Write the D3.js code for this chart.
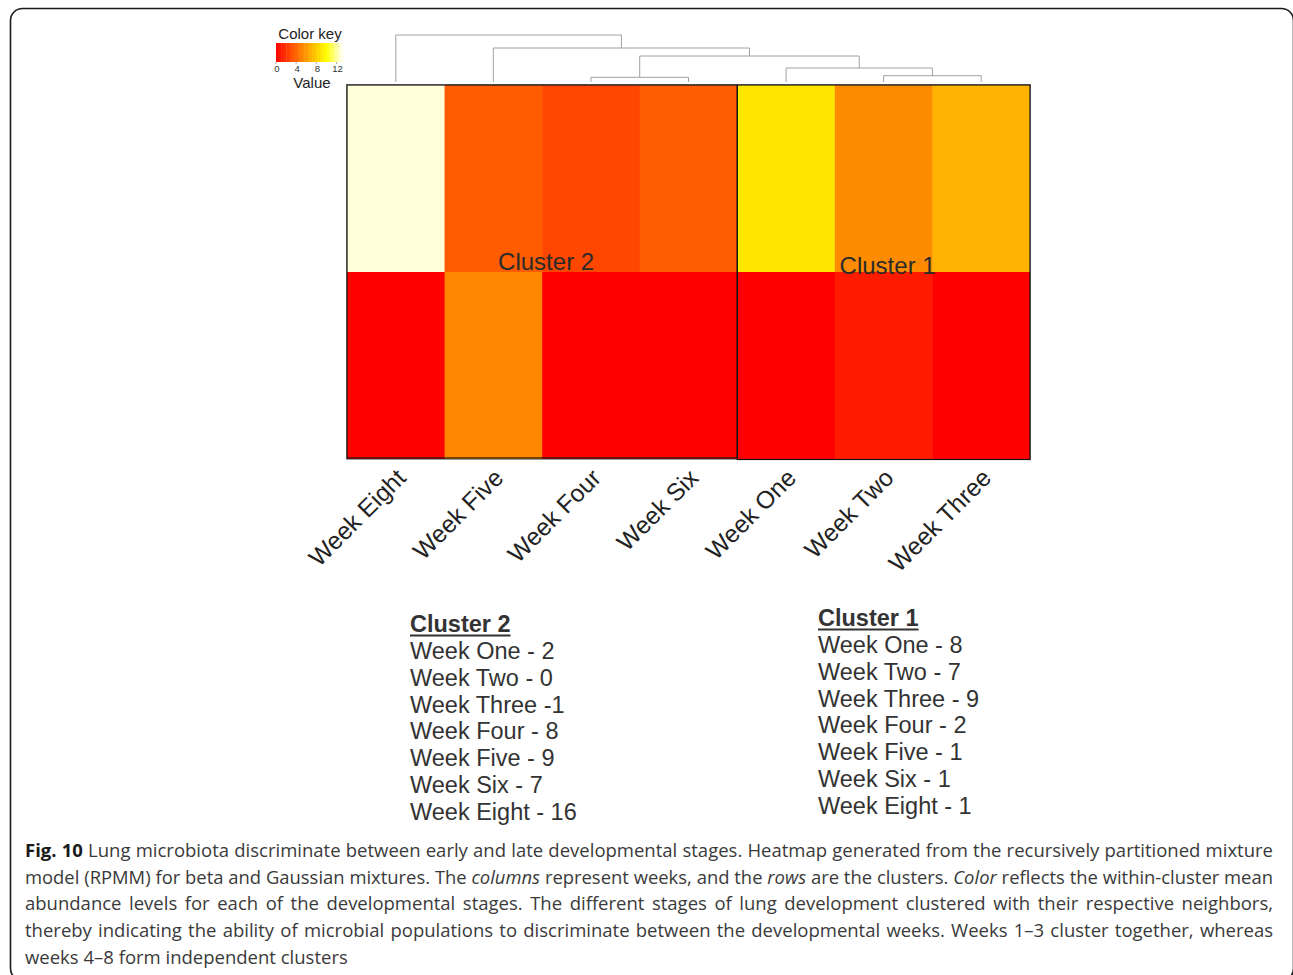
<!DOCTYPE html>
<html><head><meta charset="utf-8">
<script src="https://cdn.jsdelivr.net/npm/d3@7/dist/d3.min.js"></script>
<style>
html,body{margin:0;padding:0;background:#fff;}
svg{display:block;}
</style></head>
<body>
<svg id="chart" width="1293" height="975"></svg>
<script>
// ---------- data ----------
const columns = ["Week Eight","Week Five","Week Four","Week Six","Week One","Week Two","Week Three"];
const rowKeys = ["Row A","Row B"];
const rowAValues = [12.8, 3.6, 2.8, 3.7, 9.0, 5.5, 7.0];
const rowBValues = [0.0, 5.3, 0.0, 0.0, 0.0, 1.0, 0.0];
const keyTicks = [0, 4, 8, 12];
// dendrogram merges (hclust style: negative = leaf index+1, positive = merge number)
const merges = [[-6,-7],[-3,-4],[-5,1],[2,3],[-2,4],[-1,5]];
const mergeHeights = [6.3, 4.7, 14, 26, 34, 47];
const clusterGroups = [
  {label:"Cluster 2", cols:["Week Eight","Week Five","Week Four","Week Six"]},
  {label:"Cluster 1", cols:["Week One","Week Two","Week Three"]}
];
const listCluster2 = ["Week One - 2","Week Two - 0","Week Three -1","Week Four - 8","Week Five - 9","Week Six - 7","Week Eight - 16"];
const listCluster1 = ["Week One - 8","Week Two - 7","Week Three - 9","Week Four - 2","Week Five - 1","Week Six - 1","Week Eight - 1"];

const svg = d3.select("#chart");

// frame
svg.append("rect").attr("x",10.5).attr("y",8.5).attr("width",1283).attr("height",972)
  .attr("rx",12).attr("fill","none").attr("stroke","#1a1a1a").attr("stroke-width",1.6);

// ---------- scales ----------
const x = d3.scaleBand().domain(columns).range([347,1030]).padding(0);
const y = d3.scaleBand().domain(rowKeys).range([85,459]).padding(0);
const color = d3.scaleLinear().domain([0,10,13.3]).range(["#FF0000","#FFFF00","#FFFFFF"]).clamp(true);

const cells = [];
columns.forEach((c,i)=>{
  cells.push({col:c,row:rowKeys[0],v:rowAValues[i]});
  cells.push({col:c,row:rowKeys[1],v:rowBValues[i]});
});
svg.append("g").selectAll("rect").data(cells).join("rect")
  .attr("x",d=>x(d.col)).attr("y",d=>y(d.row))
  .attr("width",x.bandwidth()+0.5).attr("height",y.bandwidth()+0.5)
  .attr("fill",d=>color(d.v));

// outer outline
svg.append("rect").attr("x",346.5).attr("y",84.5).attr("width",684).attr("height",375)
  .attr("fill","none").attr("stroke","#9a9a9a").attr("stroke-width",1);

// cluster boxes
clusterGroups.forEach((g,gi)=>{
  const x0 = x(g.cols[0]), x1 = x(g.cols[g.cols.length-1])+x.bandwidth();
  svg.append("rect").attr("x",x0).attr("y",85).attr("width",x1-x0).attr("height",gi===0?373:374.5)
    .attr("fill","none").attr("stroke","#151515").attr("stroke-width",1.2);
  svg.append("text").attr("x",(x0+x1)/2+4).attr("y",gi===0?270:274)
    .attr("text-anchor","middle")
    .attr("font-family","'Liberation Sans Narrow','Arial Narrow','Liberation Sans',sans-serif")
    .attr("font-size",24).attr("fill","#2a2a2a").text(g.label);
});

// ---------- dendrogram ----------
const hy = d3.scaleLinear().domain([0,47]).range([82,35]);
const nodePos = [];
const dg = svg.append("g").attr("stroke","#a0a0a0").attr("stroke-width",1).attr("fill","none");
function pos(ref){
  if(ref<0){ const c=columns[-ref-1]; return {x:x(c)+x.bandwidth()/2, h:0}; }
  return nodePos[ref-1];
}
merges.forEach((m,i)=>{
  const a = pos(m[0]), b = pos(m[1]);
  const h = mergeHeights[i];
  dg.append("path").attr("d",
    `M${a.x},${hy(a.h)}V${hy(h)}H${b.x}V${hy(b.h)}`);
  nodePos.push({x:(a.x+b.x)/2, h:h});
});

// ---------- color key ----------
const kx = d3.scaleLinear().domain([0,13.3]).range([276,343]);
const nSteps = 26;
const steps = d3.range(nSteps).map(i=>i*13.3/nSteps);
svg.append("g").selectAll("rect").data(steps).join("rect")
  .attr("x",d=>kx(d)).attr("y",43).attr("width",kx(13.3/nSteps)-kx(0)+0.4).attr("height",19)
  .attr("fill",d=>color(d+13.3/nSteps/2));
svg.append("g").selectAll("line").data(keyTicks).join("line")
  .attr("x1",d=>kx(d)).attr("x2",d=>kx(d)).attr("y1",62).attr("y2",64)
  .attr("stroke","#888").attr("stroke-width",0.7);
svg.append("g").selectAll("text").data(keyTicks).join("text")
  .attr("x",d=>kx(d)+1).attr("y",72).attr("text-anchor","middle")
  .attr("font-family","'Liberation Sans',Arial,sans-serif").attr("font-size",9.5).attr("fill","#333")
  .text(d=>d);
svg.append("text").attr("x",310).attr("y",39).attr("text-anchor","middle")
  .attr("font-family","'Liberation Sans',Arial,sans-serif").attr("font-size",15).attr("fill","#222").text("Color key");
svg.append("text").attr("x",312).attr("y",88).attr("text-anchor","middle")
  .attr("font-family","'Liberation Sans',Arial,sans-serif").attr("font-size",15).attr("fill","#222").text("Value");

// ---------- column labels ----------
svg.append("g").selectAll("text").data(columns).join("text")
  .attr("transform",d=>`translate(${x(d)+x.bandwidth()/2-1},${467}) rotate(-45)`)
  .attr("text-anchor","end").attr("dy","0.72em")
  .attr("font-family","'Liberation Sans',Arial,sans-serif").attr("font-size",24.5).attr("fill","#222")
  .text(d=>d);

// ---------- cluster lists ----------
function drawList(x0, y0, title, items){
  const g = svg.append("g").attr("font-family","'Liberation Sans',Arial,sans-serif").attr("fill","#333");
  const t = g.append("text").attr("x",x0).attr("y",y0).attr("font-size",23.5).attr("font-weight","bold").text(title);
  const w = t.node().getComputedTextLength();
  g.append("line").attr("x1",x0).attr("x2",x0+w).attr("y1",y0+3.5).attr("y2",y0+3.5)
    .attr("stroke","#333").attr("stroke-width",2);
  g.selectAll("text.item").data(items).join("text").attr("class","item")
    .attr("x",x0).attr("y",(d,i)=>y0+27+i*26.8).attr("font-size",23.5).text(d=>d);
}
drawList(410, 632, "Cluster 2", listCluster2);
drawList(818, 626, "Cluster 1", listCluster1);

// ---------- caption ----------
const captionLines = [
  [["b","Fig. 10"],["n"," Lung microbiota discriminate between early and late developmental stages. Heatmap generated from the recursively partitioned mixture"]],
  [["n","model (RPMM) for beta and Gaussian mixtures. The "],["i","columns"],["n"," represent weeks, and the "],["i","rows"],["n"," are the clusters. "],["i","Color"],["n"," reflects the within-cluster mean"]],
  [["n","abundance levels for each of the developmental stages. The different stages of lung development clustered with their respective neighbors,"]],
  [["n","thereby indicating the ability of microbial populations to discriminate between the developmental weeks. Weeks 1\u20133 cluster together, whereas"]],
  [["n","weeks 4\u20138 form independent clusters"]]
];
const capX = 25, capW = 1248, capFS = 18.5;
captionLines.forEach((parts,li)=>{
  const t = svg.append("text").attr("x",capX).attr("y",857+li*26.7)
    .attr("font-family","'Open Sans','Noto Sans',sans-serif").attr("font-size",capFS).attr("fill","#3a3a3a");
  parts.forEach(p=>{
    const ts = t.append("tspan").text(p[1]);
    if(p[0]==="b"){ ts.attr("font-weight","bold").attr("fill","#1a1a1a"); }
    if(p[0]==="i"){ ts.attr("font-style","italic"); }
  });
  if(li < captionLines.length-1){
    let len = t.node().getComputedTextLength();
    if(len > capW){
      t.attr("font-size",capFS*capW/len);
      len = t.node().getComputedTextLength();
    }
    const full = parts.map(p=>p[1]).join("");
    const spaces = (full.match(/ /g)||[]).length;
    t.attr("word-spacing",(capW-len)/spaces);
  }
});
</script>
</body></html>
